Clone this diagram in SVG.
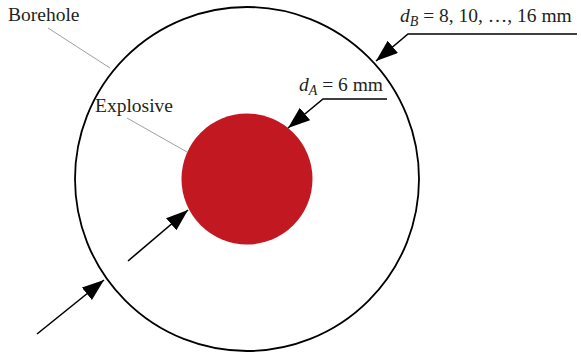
<svg xmlns="http://www.w3.org/2000/svg" width="581" height="358" viewBox="0 0 581 358">
<style>
.lbl{font-family:"Liberation Serif","DejaVu Serif",serif;font-size:19.5px;fill:#231f20}
.it{font-style:italic}
.dim{fill:none;stroke:#000;stroke-width:1.6}
.lead{fill:none;stroke:#a0a0a0;stroke-width:1}
</style>
<defs>
<marker id="ah" markerUnits="userSpaceOnUse" markerWidth="24" markerHeight="18" refX="22" refY="8" orient="auto">
<path d="M0,0 L22,8 L0,16 z" fill="#000"/>
</marker>
</defs>
<g id="borehole">
<circle cx="247" cy="179" r="172" fill="#fff" stroke="#000" stroke-width="1.8"/>
</g>
<g id="explosive">
<circle cx="247" cy="179" r="65.5" fill="#c21822"/>
</g>
<g id="labels">
<text class="lbl" x="8" y="21">Borehole</text>
<text class="lbl" x="95" y="112">Explosive</text>
<text class="lbl" x="299" y="91"><tspan class="it">d</tspan><tspan class="it" font-size="14" dy="4">A</tspan><tspan dy="-4"> = 6 mm</tspan></text>
<text class="lbl" x="400" y="22"><tspan class="it">d</tspan><tspan class="it" font-size="14" dy="4">B</tspan><tspan dy="-4"> = 8, 10, …, 16 mm</tspan></text>
</g>
<g id="connectors">
<line class="lead" x1="48" y1="28" x2="110" y2="68"/>
<line class="lead" x1="127" y1="118" x2="187" y2="152"/>
<polyline class="dim" points="577,34 408,34 376,61" marker-end="url(#ah)"/>
<polyline class="dim" points="387,99 323,99 288,128" marker-end="url(#ah)"/>
<line class="dim" x1="128" y1="261" x2="188" y2="210" marker-end="url(#ah)"/>
<line class="dim" x1="37" y1="334" x2="104" y2="280" marker-end="url(#ah)"/>
</g>
</svg>
